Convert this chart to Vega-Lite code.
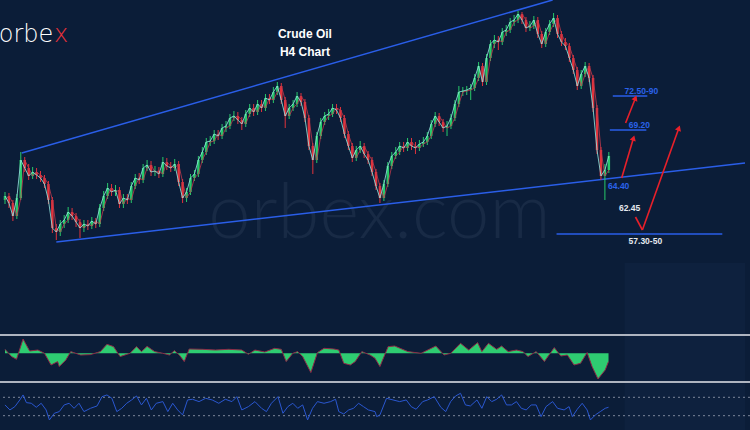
{
"$schema": "https://vega.github.io/schema/vega-lite/v6.json",
"width": 750, "height": 430, "padding": 0, "autosize": {"type": "none"},
"background": "#0b1d38",
"config": {"view": {"stroke": null}},
"datasets": {
"candles": [
{"i":0,"o":60.0,"h":60.8,"l":59.6,"c":60.4},{"i":1,"o":60.4,"h":60.7,"l":59.2,"c":59.7},{"i":2,"o":59.7,"h":60.0,"l":57.9,"c":58.4},{"i":3,"o":58.4,"h":60.6,"l":58.1,"c":60.2},{"i":4,"o":60.2,"h":64.8,"l":60.0,"c":64.0},
{"i":5,"o":64.0,"h":64.3,"l":62.8,"c":63.2},{"i":6,"o":63.2,"h":63.6,"l":62.0,"c":62.4},{"i":7,"o":62.4,"h":63.3,"l":62.1,"c":62.8},{"i":8,"o":62.8,"h":63.2,"l":62.1,"c":62.5},{"i":9,"o":62.5,"h":62.9,"l":61.8,"c":62.2},
{"i":10,"o":62.2,"h":62.5,"l":61.2,"c":61.6},{"i":11,"o":61.6,"h":61.9,"l":59.6,"c":60.0},{"i":12,"o":60.0,"h":60.3,"l":56.7,"c":57.2},{"i":13,"o":57.2,"h":57.6,"l":56.0,"c":56.8},{"i":14,"o":56.8,"h":58.0,"l":56.4,"c":57.6},
{"i":15,"o":57.6,"h":58.5,"l":57.2,"c":58.0},{"i":16,"o":58.0,"h":59.3,"l":57.7,"c":58.8},{"i":17,"o":58.8,"h":59.2,"l":58.0,"c":58.4},{"i":18,"o":58.4,"h":58.7,"l":57.3,"c":57.8},{"i":19,"o":57.8,"h":58.1,"l":56.2,"c":57.2},
{"i":20,"o":57.2,"h":58.0,"l":56.8,"c":57.6},{"i":21,"o":57.6,"h":58.0,"l":57.0,"c":57.4},{"i":22,"o":57.4,"h":58.3,"l":57.1,"c":57.9},{"i":23,"o":57.9,"h":58.2,"l":57.2,"c":57.6},{"i":24,"o":57.6,"h":59.6,"l":57.3,"c":59.2},
{"i":25,"o":59.2,"h":60.9,"l":58.9,"c":60.4},{"i":26,"o":60.4,"h":61.7,"l":60.1,"c":61.2},{"i":27,"o":61.2,"h":61.6,"l":60.4,"c":60.8},{"i":28,"o":60.8,"h":61.5,"l":60.4,"c":61.0},{"i":29,"o":61.0,"h":61.3,"l":59.2,"c":59.6},
{"i":30,"o":59.6,"h":60.6,"l":59.2,"c":60.2},{"i":31,"o":60.2,"h":60.6,"l":59.6,"c":60.0},{"i":32,"o":60.0,"h":61.8,"l":59.7,"c":61.4},{"i":33,"o":61.4,"h":62.6,"l":61.1,"c":62.2},{"i":34,"o":62.2,"h":62.7,"l":61.6,"c":62.0},
{"i":35,"o":62.0,"h":63.6,"l":61.7,"c":63.2},{"i":36,"o":63.2,"h":64.0,"l":62.9,"c":63.5},{"i":37,"o":63.5,"h":63.9,"l":62.4,"c":62.8},{"i":38,"o":62.8,"h":63.4,"l":62.4,"c":62.9},{"i":39,"o":62.9,"h":63.3,"l":62.2,"c":62.6},
{"i":40,"o":62.6,"h":64.3,"l":62.3,"c":63.8},{"i":41,"o":63.8,"h":64.2,"l":63.0,"c":63.4},{"i":42,"o":63.4,"h":63.8,"l":62.8,"c":63.2},{"i":43,"o":63.2,"h":64.1,"l":62.9,"c":63.6},{"i":44,"o":63.6,"h":63.9,"l":61.4,"c":61.8},
{"i":45,"o":61.8,"h":62.1,"l":59.7,"c":60.2},{"i":46,"o":60.2,"h":61.2,"l":59.8,"c":60.8},{"i":47,"o":60.8,"h":62.6,"l":60.5,"c":62.2},{"i":48,"o":62.2,"h":63.0,"l":61.9,"c":62.6},{"i":49,"o":62.6,"h":64.4,"l":62.3,"c":64.0},
{"i":50,"o":64.0,"h":65.3,"l":63.7,"c":64.8},{"i":51,"o":64.8,"h":66.2,"l":64.5,"c":65.8},{"i":52,"o":65.8,"h":66.4,"l":65.4,"c":65.9},{"i":53,"o":65.9,"h":67.0,"l":65.6,"c":66.6},{"i":54,"o":66.6,"h":67.0,"l":66.0,"c":66.4},
{"i":55,"o":66.4,"h":67.6,"l":66.1,"c":67.2},{"i":56,"o":67.2,"h":67.9,"l":66.8,"c":67.4},{"i":57,"o":67.4,"h":68.6,"l":67.1,"c":68.2},{"i":58,"o":68.2,"h":68.9,"l":67.9,"c":68.4},{"i":59,"o":68.4,"h":68.8,"l":67.6,"c":68.0},
{"i":60,"o":68.0,"h":68.3,"l":67.0,"c":67.6},{"i":61,"o":67.6,"h":69.0,"l":67.3,"c":68.6},{"i":62,"o":68.6,"h":69.6,"l":68.3,"c":69.2},{"i":63,"o":69.2,"h":69.6,"l":68.4,"c":68.8},{"i":64,"o":68.8,"h":70.0,"l":68.5,"c":69.6},
{"i":65,"o":69.6,"h":70.0,"l":68.8,"c":69.2},{"i":66,"o":69.2,"h":70.6,"l":68.9,"c":70.2},{"i":67,"o":70.2,"h":70.6,"l":69.6,"c":70.0},{"i":68,"o":70.0,"h":71.3,"l":69.7,"c":70.8},{"i":69,"o":70.8,"h":71.8,"l":70.5,"c":71.4},
{"i":70,"o":71.4,"h":71.7,"l":69.6,"c":70.0},{"i":71,"o":70.0,"h":70.3,"l":67.2,"c":68.4},{"i":72,"o":68.4,"h":69.6,"l":68.1,"c":69.2},{"i":73,"o":69.2,"h":70.0,"l":68.9,"c":69.6},{"i":74,"o":69.6,"h":70.8,"l":69.3,"c":70.4},
{"i":75,"o":70.4,"h":70.7,"l":69.4,"c":69.8},{"i":76,"o":69.8,"h":70.1,"l":67.8,"c":68.2},{"i":77,"o":68.2,"h":68.5,"l":65.0,"c":65.4},{"i":78,"o":65.4,"h":65.7,"l":62.6,"c":64.0},{"i":79,"o":64.0,"h":66.8,"l":63.7,"c":66.4},
{"i":80,"o":66.4,"h":68.2,"l":66.1,"c":67.8},{"i":81,"o":67.8,"h":68.8,"l":67.5,"c":68.4},{"i":82,"o":68.4,"h":69.1,"l":68.0,"c":68.6},{"i":83,"o":68.6,"h":69.6,"l":68.3,"c":69.2},{"i":84,"o":69.2,"h":69.6,"l":68.6,"c":69.0},
{"i":85,"o":69.0,"h":69.3,"l":67.8,"c":68.2},{"i":86,"o":68.2,"h":68.5,"l":66.2,"c":66.6},{"i":87,"o":66.6,"h":66.9,"l":65.0,"c":65.4},{"i":88,"o":65.4,"h":65.7,"l":63.8,"c":64.2},{"i":89,"o":64.2,"h":65.4,"l":63.9,"c":65.0},
{"i":90,"o":65.0,"h":65.9,"l":64.7,"c":65.4},{"i":91,"o":65.4,"h":65.7,"l":64.2,"c":64.6},{"i":92,"o":64.6,"h":64.9,"l":63.6,"c":64.0},{"i":93,"o":64.0,"h":64.3,"l":62.4,"c":62.8},{"i":94,"o":62.8,"h":63.1,"l":61.0,"c":61.4},
{"i":95,"o":61.4,"h":61.7,"l":59.7,"c":60.2},{"i":96,"o":60.2,"h":62.0,"l":59.9,"c":61.6},{"i":97,"o":61.6,"h":63.8,"l":61.3,"c":63.4},{"i":98,"o":63.4,"h":64.8,"l":63.1,"c":64.4},{"i":99,"o":64.4,"h":65.3,"l":64.1,"c":64.8},
{"i":100,"o":64.8,"h":65.8,"l":64.5,"c":65.4},{"i":101,"o":65.4,"h":65.8,"l":64.8,"c":65.2},{"i":102,"o":65.2,"h":66.2,"l":64.9,"c":65.8},{"i":103,"o":65.8,"h":66.2,"l":65.0,"c":65.4},{"i":104,"o":65.4,"h":65.8,"l":64.6,"c":65.2},
{"i":105,"o":65.2,"h":66.0,"l":64.9,"c":65.6},{"i":106,"o":65.6,"h":66.3,"l":65.3,"c":65.8},{"i":107,"o":65.8,"h":66.8,"l":65.5,"c":66.4},{"i":108,"o":66.4,"h":68.0,"l":66.1,"c":67.6},{"i":109,"o":67.6,"h":68.8,"l":67.3,"c":68.4},
{"i":110,"o":68.4,"h":68.7,"l":67.4,"c":67.8},{"i":111,"o":67.8,"h":68.1,"l":66.8,"c":67.2},{"i":112,"o":67.2,"h":67.9,"l":66.4,"c":67.4},{"i":113,"o":67.4,"h":68.6,"l":67.1,"c":68.2},{"i":114,"o":68.2,"h":70.0,"l":67.9,"c":69.6},
{"i":115,"o":69.6,"h":71.4,"l":69.3,"c":70.8},{"i":116,"o":70.8,"h":71.3,"l":70.4,"c":70.9},{"i":117,"o":70.9,"h":71.4,"l":70.5,"c":71.0},{"i":118,"o":71.0,"h":71.6,"l":70.0,"c":71.2},{"i":119,"o":71.2,"h":72.6,"l":70.9,"c":72.2},
{"i":120,"o":72.2,"h":73.8,"l":71.9,"c":73.4},{"i":121,"o":73.4,"h":73.7,"l":71.4,"c":71.8},{"i":122,"o":71.8,"h":74.6,"l":71.5,"c":74.2},{"i":123,"o":74.2,"h":76.0,"l":73.9,"c":75.6},{"i":124,"o":75.6,"h":76.5,"l":75.2,"c":76.0},
{"i":125,"o":76.0,"h":76.4,"l":75.0,"c":75.8},{"i":126,"o":75.8,"h":77.2,"l":75.5,"c":76.8},{"i":127,"o":76.8,"h":77.5,"l":76.4,"c":77.0},{"i":128,"o":77.0,"h":78.2,"l":76.7,"c":77.8},{"i":129,"o":77.8,"h":78.5,"l":77.4,"c":78.0},
{"i":130,"o":78.0,"h":78.9,"l":77.7,"c":78.6},{"i":131,"o":78.6,"h":78.8,"l":77.6,"c":78.0},{"i":132,"o":78.0,"h":78.3,"l":76.8,"c":77.2},{"i":133,"o":77.2,"h":77.9,"l":76.9,"c":77.4},{"i":134,"o":77.4,"h":78.4,"l":77.1,"c":78.0},
{"i":135,"o":78.0,"h":78.3,"l":76.2,"c":76.6},{"i":136,"o":76.6,"h":76.9,"l":75.2,"c":75.6},{"i":137,"o":75.6,"h":77.2,"l":75.3,"c":76.8},{"i":138,"o":76.8,"h":78.0,"l":76.5,"c":77.6},{"i":139,"o":77.6,"h":78.7,"l":77.3,"c":78.2},
{"i":140,"o":78.2,"h":78.5,"l":76.2,"c":76.6},{"i":141,"o":76.6,"h":76.9,"l":75.4,"c":75.8},{"i":142,"o":75.8,"h":76.2,"l":75.0,"c":75.4},{"i":143,"o":75.4,"h":75.7,"l":73.8,"c":74.2},{"i":144,"o":74.2,"h":74.5,"l":72.6,"c":73.0},
{"i":145,"o":73.0,"h":73.3,"l":71.0,"c":71.4},{"i":146,"o":71.4,"h":73.0,"l":71.1,"c":72.6},{"i":147,"o":72.6,"h":73.8,"l":72.3,"c":73.4},{"i":148,"o":73.4,"h":73.7,"l":71.8,"c":72.2},{"i":149,"o":72.2,"h":72.5,"l":68.8,"c":69.2},
{"i":150,"o":69.2,"h":69.5,"l":64.6,"c":65.0},{"i":151,"o":65.0,"h":65.3,"l":62.0,"c":62.4},{"i":152,"o":62.4,"h":63.6,"l":60.0,"c":63.0},{"i":153,"o":63.0,"h":64.8,"l":62.7,"c":64.4}
],
"macd": [
{"i":0,"m":0.4},{"i":1.67,"m":-0.33},{"i":2.92,"m":-0.6},{"i":4.58,"m":1.43},{"i":6.25,"m":0.23},{"i":8.33,"m":0.33},{"i":10,"m":0},{"i":11.67,"m":-1.17},{"i":13.33,"m":-0.83},{"i":13.75,"m":-1.33},
{"i":15.42,"m":-0.67},{"i":16.67,"m":0.17},{"i":19.17,"m":-0.17},{"i":21.67,"m":-0.13},{"i":24.17,"m":0.17},{"i":25.83,"m":0.9},{"i":27.5,"m":0.67},{"i":29.17,"m":-0.33},{"i":31.67,"m":0},{"i":33.33,"m":0.67},
{"i":34.58,"m":0.17},{"i":36,"m":0.7},{"i":37.92,"m":0.17},{"i":40,"m":0},{"i":41.67,"m":-0.17},{"i":42.92,"m":0.27},{"i":44.17,"m":-0.17},{"i":45.42,"m":-0.83},{"i":46.67,"m":0.43},{"i":50,"m":0.4},
{"i":53.33,"m":0.33},{"i":56.67,"m":0.4},{"i":60,"m":0.33},{"i":61.67,"m":-0.1},{"i":63.33,"m":0.33},{"i":65.83,"m":0.13},{"i":68.33,"m":0.5},{"i":70,"m":0.4},{"i":71.25,"m":-0.83},{"i":72.92,"m":0},
{"i":74.17,"m":0.17},{"i":75.42,"m":-0.33},{"i":77.5,"m":-1.93},{"i":79.17,"m":0.07},{"i":80.83,"m":0.5},{"i":83.33,"m":0.43},{"i":84.58,"m":0.33},{"i":85.83,"m":-1.0},{"i":87.5,"m":-1.17},{"i":88.75,"m":-0.83},
{"i":90.42,"m":0.17},{"i":92.5,"m":-0.17},{"i":93.75,"m":-0.5},{"i":95,"m":-1.33},{"i":97.08,"m":0.67},{"i":98.75,"m":0.73},{"i":102.08,"m":0.17},{"i":105.42,"m":0},{"i":109.17,"m":0.73},{"i":111.25,"m":-0.17},
{"i":112.92,"m":0},{"i":115.42,"m":1.0},{"i":117.5,"m":0.33},{"i":119.75,"m":1.07},{"i":120.83,"m":0.17},{"i":122.5,"m":1.0},{"i":124.58,"m":0.4},{"i":125.83,"m":0.73},{"i":127.5,"m":0.17},{"i":129.58,"m":0.33},
{"i":131.25,"m":0.17},{"i":132.5,"m":-0.33},{"i":134.58,"m":0.17},{"i":136.67,"m":-0.83},{"i":139.17,"m":0.57},{"i":140.83,"m":-0.27},{"i":142.5,"m":-0.17},{"i":144.17,"m":-1.17},{"i":145.83,"m":-1.0},{"i":147.5,"m":0.07},
{"i":148.75,"m":-1.33},{"i":150.25,"m":-2.57},{"i":152.08,"m":-1.67},{"i":152.92,"m":-0.83}
],
"rsi": [
{"i":0,"r":53.4},{"i":1.25,"r":42.5},{"i":2.5,"r":49.7},{"i":3.75,"r":64.2},{"i":4.58,"r":75.1},{"i":5.42,"r":58.4},{"i":6.67,"r":57.0},{"i":7.92,"r":48.3},{"i":9.17,"r":57.0},{"i":10.42,"r":42.5},
{"i":11.25,"r":20.8},{"i":12.5,"r":35.3},{"i":13.75,"r":38.9},{"i":15,"r":53.4},{"i":16.25,"r":57.0},{"i":17.5,"r":46.1},{"i":18.75,"r":57.0},{"i":20,"r":38.9},{"i":21.67,"r":46.1},{"i":23.33,"r":51.2},
{"i":24.58,"r":71.4},{"i":25.83,"r":75.1},{"i":27.08,"r":67.8},{"i":28.33,"r":38.9},{"i":29.58,"r":46.1},{"i":30.83,"r":57.0},{"i":32.08,"r":64.2},{"i":33.33,"r":72.9},{"i":34.58,"r":53.4},{"i":35.83,"r":67.8},
{"i":37.08,"r":42.5},{"i":38.33,"r":57.0},{"i":40,"r":60.6},{"i":41.25,"r":38.9},{"i":42.5,"r":57.0},{"i":43.75,"r":42.5},{"i":45,"r":31.7},{"i":46.25,"r":64.2},{"i":47.5,"r":65.7},{"i":49.17,"r":60.6},
{"i":50.83,"r":67.8},{"i":52.5,"r":64.2},{"i":54.17,"r":57.0},{"i":55.83,"r":65.7},{"i":57.5,"r":60.6},{"i":58.75,"r":71.4},{"i":60,"r":42.5},{"i":61.67,"r":49.7},{"i":63.33,"r":60.6},{"i":65,"r":46.1},
{"i":66.25,"r":38.9},{"i":67.5,"r":57.0},{"i":69.17,"r":71.4},{"i":70.42,"r":35.3},{"i":71.67,"r":49.7},{"i":72.92,"r":57.0},{"i":74.17,"r":46.1},{"i":75.42,"r":53.4},{"i":76.67,"r":20.8},{"i":77.92,"r":46.1},
{"i":79.17,"r":60.6},{"i":80.83,"r":57.0},{"i":82.5,"r":60.6},{"i":83.75,"r":65.7},{"i":84.58,"r":38.9},{"i":85.83,"r":33.8},{"i":87.08,"r":42.5},{"i":88.33,"r":46.1},{"i":89.58,"r":57.0},{"i":90.83,"r":49.7},
{"i":92.08,"r":42.5},{"i":93.75,"r":38.9},{"i":94.17,"r":28.0},{"i":95,"r":31.7},{"i":96.67,"r":67.8},{"i":98.33,"r":64.2},{"i":100,"r":60.6},{"i":101.67,"r":64.2},{"i":102.92,"r":49.7},{"i":104.17,"r":44.0},
{"i":105.83,"r":60.6},{"i":107.08,"r":64.2},{"i":108.75,"r":71.4},{"i":110.42,"r":48.3},{"i":111.67,"r":38.9},{"i":112.92,"r":60.6},{"i":114.17,"r":72.9},{"i":115.42,"r":78.7},{"i":116.67,"r":53.4},{"i":117.92,"r":51.2},
{"i":119.58,"r":64.2},{"i":120.83,"r":46.1},{"i":122.08,"r":71.4},{"i":123.33,"r":60.6},{"i":124.58,"r":65.7},{"i":125.83,"r":75.1},{"i":127.08,"r":53.4},{"i":128.33,"r":53.4},{"i":129.58,"r":60.6},{"i":130.83,"r":46.1},
{"i":132.08,"r":42.5},{"i":133.33,"r":53.4},{"i":134.58,"r":53.4},{"i":135.83,"r":28.0},{"i":137.08,"r":49.7},{"i":138.75,"r":60.6},{"i":140,"r":46.1},{"i":141.67,"r":42.5},{"i":142.92,"r":49.7},{"i":143.75,"r":28.0},
{"i":145,"r":44.0},{"i":146.25,"r":57.0},{"i":147.5,"r":42.5},{"i":148.33,"r":20.8},{"i":149.58,"r":31.7},{"i":150.83,"r":38.9},{"i":152.08,"r":46.1},{"i":152.92,"r":48.3}
],
"panes": [{"x":157,"x2":187.5,"y":53.7,"y2":37}],
"trend": [{"x":4.25,"y":64.7,"x2":138.75,"y2":80.0},{"x":13,"y":55.8,"x2":187.5,"y2":63.7}],
"levels": [{"x":139.75,"x2":181.75,"y":56.6},{"x":153.25,"x2":162.5,"y":67.0},{"x":154,"x2":162.75,"y":70.4}],
"bluelabels": [{"t":"72.50-90","x":161.25,"y":70.9},{"t":"69.20","x":160.75,"y":67.5},{"t":"64.40","x":155.5,"y":61.4}],
"whitelabels": [{"t":"62.45","x":158.25,"y":59.2},{"t":"57.30-50","x":162.25,"y":55.9}],
"titles": [{"t":"Crude Oil","x":76,"y":76.6},{"t":"H4 Chart","x":76,"y":74.8}],
"arrows": [{"x":156.25,"y":62.2,"x2":159.25,"y2":66.2},{"x":157.25,"y":67.7,"x2":159.75,"y2":70.2},{"x":159.75,"y":58.3,"x2":161.5,"y2":57.0},{"x":161.5,"y":57.0,"x2":170.75,"y2":67.2}],
"heads": [{"x":159.25,"y":66.2,"dir":17},{"x":159.75,"y":70.2,"dir":22},{"x":170.75,"y":67.2,"dir":20}]
},
"resolve": {"scale": {"y": "independent"}},
"layer": [
{"layer": [
 {"data": {"name":"panes"},
  "mark": {"type":"rect","color":"#0e213e"},
  "encoding": {"x":{"field":"x","type":"quantitative","scale":{"domain":[0,187.5],"nice":false,"zero":false},"axis":null},
   "x2":{"field":"x2"},
   "y":{"field":"y","type":"quantitative","scale":{"domain":[37,80],"nice":false,"zero":false},"axis":null},
   "y2":{"field":"y2"}}},
 {"data": {"values": [{"t":"orbex.com","x":51.5,"y":56.2}]},
  "mark": {"type":"text","align":"left","baseline":"alphabetic","font":"Lato","fontWeight":300,"fontSize":76,"color":"#182a45"},
  "encoding": {"x":{"field":"x","type":"quantitative","scale":{"domain":[0,187.5],"nice":false,"zero":false},"axis":null},
   "y":{"field":"y","type":"quantitative","scale":{"domain":[37,80],"nice":false,"zero":false},"axis":null},
   "text":{"field":"t"}}},
 {"mark": {"type":"rule","color":"#56637d","strokeWidth":1},
  "encoding": {"y":{"datum":64.8,"type":"quantitative","scale":{"domain":[37,80],"nice":false,"zero":false},"axis":null}}},
 {"data": {"name":"trend"},
  "mark": {"type":"rule","color":"#2a5ee8","strokeWidth":1.5},
  "encoding": {"x":{"field":"x","type":"quantitative","scale":{"domain":[0,187.5],"nice":false,"zero":false},"axis":null},
   "x2":{"field":"x2"},
   "y":{"field":"y","type":"quantitative","scale":{"domain":[37,80],"nice":false,"zero":false},"axis":null},
   "y2":{"field":"y2"}}},
 {"data": {"name":"candles"},
  "mark": {"type":"rule","strokeWidth":1},
  "encoding": {"x":{"field":"i","type":"quantitative","scale":{"domain":[0,187.5],"nice":false,"zero":false},"axis":null},
   "y":{"field":"l","type":"quantitative","scale":{"domain":[37,80],"nice":false,"zero":false},"axis":null},
   "y2":{"field":"h"},
   "color":{"condition":{"test":"datum.c >= datum.o","value":"#27c96a"},"value":"#e0333c"}}},
 {"data": {"name":"candles"},
  "mark": {"type":"bar","size":2.5},
  "encoding": {"x":{"field":"i","type":"quantitative","scale":{"domain":[0,187.5],"nice":false,"zero":false},"axis":null},
   "y":{"field":"o","type":"quantitative","scale":{"domain":[37,80],"nice":false,"zero":false},"axis":null},
   "y2":{"field":"c"},
   "color":{"condition":{"test":"datum.c >= datum.o","value":"#27c96a"},"value":"#e0333c"}}},
 {"data": {"name":"candles"},
  "mark": {"type":"line","color":"#c23a4c","strokeWidth":1,"opacity":0.8},
  "encoding": {"x":{"field":"i","type":"quantitative","scale":{"domain":[0,187.5],"nice":false,"zero":false},"axis":null},
   "y":{"field":"o","type":"quantitative","scale":{"domain":[37,80],"nice":false,"zero":false},"axis":null}}},
 {"data": {"name":"candles"},
  "mark": {"type":"line","color":"#8fe3dc","strokeWidth":1,"opacity":0.85},
  "encoding": {"x":{"field":"i","type":"quantitative","scale":{"domain":[0,187.5],"nice":false,"zero":false},"axis":null},
   "y":{"field":"c","type":"quantitative","scale":{"domain":[37,80],"nice":false,"zero":false},"axis":null}}},
 {"data": {"name":"levels"},
  "mark": {"type":"rule","color":"#2a5ee8","strokeWidth":1.5},
  "encoding": {"x":{"field":"x","type":"quantitative","scale":{"domain":[0,187.5],"nice":false,"zero":false},"axis":null},
   "x2":{"field":"x2"},
   "y":{"field":"y","type":"quantitative","scale":{"domain":[37,80],"nice":false,"zero":false},"axis":null}}},
 {"data": {"name":"arrows"},
  "mark": {"type":"rule","color":"#e8202a","strokeWidth":1.6},
  "encoding": {"x":{"field":"x","type":"quantitative","scale":{"domain":[0,187.5],"nice":false,"zero":false},"axis":null},
   "x2":{"field":"x2"},
   "y":{"field":"y","type":"quantitative","scale":{"domain":[37,80],"nice":false,"zero":false},"axis":null},
   "y2":{"field":"y2"}}},
 {"data": {"name":"heads"},
  "mark": {"type":"point","shape":"triangle-up","filled":true,"color":"#e8202a","size":40,"opacity":1},
  "encoding": {"x":{"field":"x","type":"quantitative","scale":{"domain":[0,187.5],"nice":false,"zero":false},"axis":null},
   "y":{"field":"y","type":"quantitative","scale":{"domain":[37,80],"nice":false,"zero":false},"axis":null},
   "angle":{"field":"dir","type":"quantitative","scale":null}}},
 {"data": {"name":"bluelabels"},
  "mark": {"type":"text","font":"Liberation Sans","fontWeight":"bold","fontSize":8.5,"color":"#2a62ea","align":"center","baseline":"middle"},
  "encoding": {"x":{"field":"x","type":"quantitative","scale":{"domain":[0,187.5],"nice":false,"zero":false},"axis":null},
   "y":{"field":"y","type":"quantitative","scale":{"domain":[37,80],"nice":false,"zero":false},"axis":null},
   "text":{"field":"t"}}},
 {"data": {"name":"whitelabels"},
  "mark": {"type":"text","font":"Liberation Sans","fontWeight":"bold","fontSize":8.5,"color":"#e6e9ef","align":"center","baseline":"middle"},
  "encoding": {"x":{"field":"x","type":"quantitative","scale":{"domain":[0,187.5],"nice":false,"zero":false},"axis":null},
   "y":{"field":"y","type":"quantitative","scale":{"domain":[37,80],"nice":false,"zero":false},"axis":null},
   "text":{"field":"t"}}},
 {"data": {"name":"titles"},
  "mark": {"type":"text","font":"Liberation Sans","fontWeight":"bold","fontSize":12,"color":"#ffffff","align":"center","baseline":"middle"},
  "encoding": {"x":{"field":"x","type":"quantitative","scale":{"domain":[0,187.5],"nice":false,"zero":false},"axis":null},
   "y":{"field":"y","type":"quantitative","scale":{"domain":[37,80],"nice":false,"zero":false},"axis":null},
   "text":{"field":"t"}}},
 {"data": {"values": [{"t":"orbe","x":12.25,"y":75.8}]},
  "mark": {"type":"text","align":"right","baseline":"alphabetic","font":"DejaVu Sans","fontWeight":200,"fontSize":24,"color":"#ffffff"},
  "encoding": {"x":{"field":"x","type":"quantitative","scale":{"domain":[0,187.5],"nice":false,"zero":false},"axis":null},
   "y":{"field":"y","type":"quantitative","scale":{"domain":[37,80],"nice":false,"zero":false},"axis":null},
   "text":{"field":"t"}}},
 {"data": {"values": [{"t":"x","x":12.4,"y":75.8}]},
  "mark": {"type":"text","align":"left","baseline":"alphabetic","font":"DejaVu Sans","fontWeight":200,"fontSize":24,"color":"#e8313a"},
  "encoding": {"x":{"field":"x","type":"quantitative","scale":{"domain":[0,187.5],"nice":false,"zero":false},"axis":null},
   "y":{"field":"y","type":"quantitative","scale":{"domain":[37,80],"nice":false,"zero":false},"axis":null},
   "text":{"field":"t"}}}
]},
{"layer": [
 {"data": {"name":"macd"},
  "mark": {"type":"area","color":"#2ecc71"},
  "encoding": {"x":{"field":"i","type":"quantitative","scale":{"domain":[0,187.5],"nice":false,"zero":false},"axis":null},
   "y":{"field":"m","type":"quantitative","scale":{"domain":[-7.67,35.33],"nice":false,"zero":false},"axis":null},
   "y2":{"datum":0}}},
 {"data": {"name":"macd"},
  "mark": {"type":"line","color":"#8e2a48","strokeWidth":1},
  "encoding": {"x":{"field":"i","type":"quantitative","scale":{"domain":[0,187.5],"nice":false,"zero":false},"axis":null},
   "y":{"field":"m","type":"quantitative","scale":{"domain":[-7.67,35.33],"nice":false,"zero":false},"axis":null}}},
 {"data": {"values": [{"y":1.83},{"y":-2.87}]},
  "mark": {"type":"rule","color":"#aeb4c0","strokeWidth":2},
  "encoding": {"y":{"field":"y","type":"quantitative","scale":{"domain":[-7.67,35.33],"nice":false,"zero":false},"axis":null}}}
]},
{"layer": [
 {"data": {"values": [{"y":70},{"y":30}]},
  "mark": {"type":"rule","color":"#7d879b","strokeWidth":1,"strokeDash":[2,3]},
  "encoding": {"y":{"field":"y","type":"quantitative","scale":{"domain":[-1.09,933.7],"nice":false,"zero":false},"axis":null}}},
 {"data": {"name":"rsi"},
  "mark": {"type":"line","color":"#2a57d0","strokeWidth":1},
  "encoding": {"x":{"field":"i","type":"quantitative","scale":{"domain":[0,187.5],"nice":false,"zero":false},"axis":null},
   "y":{"field":"r","type":"quantitative","scale":{"domain":[-1.09,933.7],"nice":false,"zero":false},"axis":null}}}
]}
]
}
